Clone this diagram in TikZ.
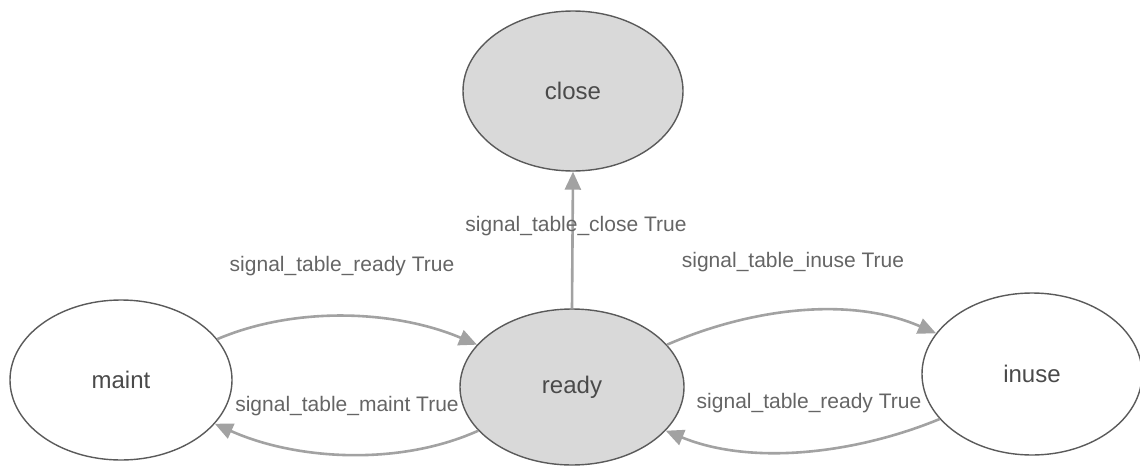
\documentclass[tikz,border=0pt]{standalone}
\usepackage{fontspec}
\setmainfont{Liberation Sans}
\usetikzlibrary{shapes.geometric,arrows.meta}
\definecolor{edgegrey}{HTML}{A2A2A2}
\definecolor{nodeline}{HTML}{5A5A5A}
\definecolor{nodefill}{HTML}{D9D9D9}
\definecolor{txt}{HTML}{4A4A4A}
\tikzset{
  state/.style={ellipse, draw=nodeline, line width=1.4pt, minimum width=220pt, minimum height=160pt, inner sep=0pt, text=txt, font=\fontsize{24}{27}\selectfont},
  active/.style={state, fill=nodefill},
  trans/.style={draw=edgegrey, line width=2.6pt, -{Triangle[length=18pt,width=16pt]}},
  lbl/.style={text=txt!85, font=\fontsize{21}{24}\selectfont, inner sep=1pt}
}
\begin{document}
\begin{tikzpicture}[x=1pt,y=-1pt]
\useasboundingbox (0,0) rectangle (1140,471);
\clip (0,0) rectangle (1140,471);
\node[active] (close) at (573,91) {close};
\node[state, minimum width=222pt] (maint) at (121,380) {maint};
\node[active, minimum width=224pt, minimum height=156pt] (ready) at (572,387) {ready};
\node[state, minimum width=220pt, minimum height=162pt] (inuse) at (1032,374) {inuse};

\draw[trans] (ready.north) -- (close.south);
\draw[trans] (maint.23) .. controls +(80,-34) and +(-80,-34) .. (ready.156);
\draw[trans] (ready.205) .. controls +(-80,36) and +(80,36) .. (maint.335);
\draw[trans] (ready.24) .. controls +(85,-37) and +(-85,-37) .. (inuse.157);
\draw[trans] (inuse.206) .. controls +(-85,35) and +(85,35) .. (ready.335);

\node[lbl] (lclose) at (576,226) {signal\_table\_close True};
\node[lbl] (lready1) at (342,266) {signal\_table\_ready True};
\node[lbl] (linuse) at (793,262) {signal\_table\_inuse True};
\node[lbl] (lmaint) at (347,406) {signal\_table\_maint True};
\node[lbl] (lready2) at (809,403) {signal\_table\_ready True};
\end{tikzpicture}
\end{document}
